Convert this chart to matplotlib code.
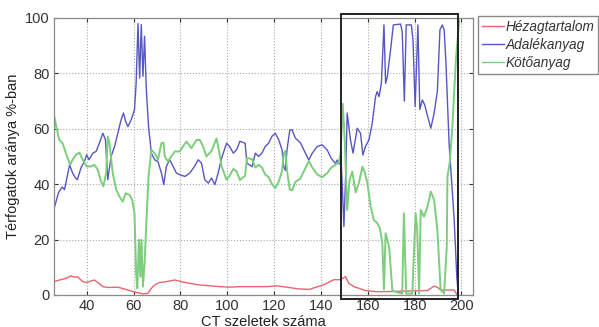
import matplotlib
matplotlib.use("Agg")
import matplotlib.pyplot as plt
from matplotlib.patches import Rectangle

plt.rcParams['font.family'] = ['Liberation Sans', 'DejaVu Sans']

# --- data ---------------------------------------------------------------
adal_x = [26, 28, 29.5, 30.5, 31.5, 32.7, 34, 35, 36, 37.6, 39, 40, 41, 42.6, 44, 45.4,
          46.9, 48, 49, 50.4, 51.9, 53.3, 54.7, 55.7, 56.6, 57.6, 59, 60.4, 61.1, 61.9,
          62.6, 63.3, 64, 64.7, 65.4, 66.4, 67.6, 69, 70.4, 71.9, 72.9, 74, 75.4, 76.9,
          78.3, 79.7, 82, 84, 86, 87.6, 89, 90.4, 91.9, 93.3, 94.7, 96.1, 97.6, 99.7, 101,
          102.6, 104, 105.4, 107.6, 108.4, 110.6, 112, 113.4, 114.8, 116.2, 117.7, 119.1,
          120.5, 122, 123.4, 124.1, 124.8, 125.5, 126.7, 127.7, 129.1, 131.2, 133.4, 134.8,
          136.3, 138.4, 140.5, 142.7, 144.4, 146.2, 147, 147.7, 148.7, 149.3, 149.8, 150.5,
          151.2, 152.6, 153.7, 155.5, 156.9, 157.9, 159, 160.5, 161.9, 163.3, 164, 164.8,
          165.8, 166.9, 167.6, 168.3, 169.7, 170.9, 174, 174.7, 175.6, 176.4, 178.6, 179.3,
          180.2, 181.4, 182.2, 183.3, 184.3, 185.5, 186.9, 188.3, 189.7, 190.8, 191.8,
          192.6, 193.3, 194.7, 196.8, 198, 198.6]
adal_y = [31, 37, 39, 38, 42, 47, 44, 42.5, 41.6, 46, 48.2, 50.6, 48.8, 51.2, 51.8, 54.8,
          58.4, 56, 41.6, 50, 53.6, 58.4, 63.3, 65.7, 62.7, 60.8, 63.3, 66.9, 76.5, 98,
          78.3, 97.6, 78.9, 93.4, 75, 60.8, 51.2, 48.8, 48.2, 44, 39.8, 46.4, 48.8, 46.4,
          44, 43.4, 42.8, 44, 46.4, 48.8, 47.6, 41.6, 40.4, 42.2, 39.8, 44, 49.4, 54.8, 53.6,
          51.2, 52.4, 55.5, 54.8, 47.6, 46.3, 51.2, 50, 51.2, 53.6, 54.8, 57.3,
          58.4, 56, 52.3, 46.3, 45, 52.3, 59.6, 59.6, 56.6, 55, 51.2, 48.7,
          51.2, 53.6, 54.2, 52.3, 49.3, 47.5, 48.7, 47.5, 47, 35.5, 24.7, 42,
          65.7, 56, 51.2, 60.2, 58.4, 50.5, 53.6, 56, 62, 71.6, 73.4, 71.6,
          76.4, 97.5, 76.4, 78.7, 88.3, 97.5, 97.8, 95, 70, 97.5, 97.5, 92,
          68, 97.5, 67, 70.4, 68.6, 64.6, 60.2, 65.6, 73.5, 95.7, 97.5,
          95.7, 85, 54.8, 28.3, 6.6, 0.6]

koto_x = [26, 27, 28.3, 29.7, 31.1, 32.9, 34, 35.4, 36.9, 38.3, 40, 41.9, 43.3, 44.7, 46.1,
          47.1, 48.3, 49, 49.7, 51.1, 52.6, 54, 55.4, 56.6, 58.3, 59.4, 60.4, 61.1, 61.6,
          62.3, 62.9, 63.4, 64, 64.7, 65.4, 66.4, 67.6, 69, 70.4, 71.9, 72.8, 73.3, 74.7,
          76.1, 77.6, 79.7, 81.1, 82.6, 84.7, 86.9, 88.3, 89.7, 91.1, 93.3, 95.4, 96.5,
          97.6, 99.7, 101, 102.6, 104, 105.4, 107.6, 108.4, 110.6, 112, 113.4, 114.8, 116.2,
          117.7, 119.1, 120.5, 122, 123.4, 124.1, 124.8, 125.5, 126.7, 127.7, 129.1, 131.2,
          133.4, 134.8, 136.3, 138.4, 140.5, 142.7, 144.4, 146.2, 147.7, 148.4, 149.3,
          150.2, 151.2, 152.2, 153.4, 154.8, 156.2, 157.7, 158.8, 159.8, 161.2, 162.6, 164,
          165.2, 166.2, 166.9, 167.6, 169.1, 170.5, 174.7, 175.4, 176.4, 179, 180.4, 181.1,
          181.9, 182.6, 184, 185.5, 186.9, 188.3, 189.7, 191.1, 192.6, 193.7, 194, 195,
          196.1, 197.6, 199]
koto_y = [65, 60.8, 56, 54.8, 51.2, 47, 48.8, 50.6, 51.4, 48.8, 46.4, 46.4, 47, 45.2, 41,
          39.2, 44, 57.2, 54.8, 44, 38, 35.5, 33.7, 36.7, 36.1, 34.3, 29.5, 7.8, 2.4,
          19.9, 6.6, 19.9, 3, 11.4, 25, 42.8, 52.4, 51.2, 48.8, 54.8, 55, 50, 48.2,
          50, 51.8, 51.8, 53.6, 55.4, 53, 56, 56, 53.6, 50, 52, 56.5, 52,
          46.4, 41.6, 43, 45.5, 44.6, 41.5, 43, 49.5, 49, 46, 47, 46, 43.5,
          42.5, 40, 38.6, 41, 44.7, 51, 52, 45, 38, 37.8, 40.8, 42,
          45.8, 48.3, 46, 43.5, 42.5, 44, 46, 47, 48, 51.2, 69,
          55, 30.7, 41.5, 44.5, 37, 40.5, 46.3, 44, 40.5, 32, 27, 26,
          24, 18.7, 2, 22.3, 17.4, 1.5, 0.5, 29.5, 0.5, 0.5, 29.5, 23.5,
          0.5, 30.7, 28.3, 31.9, 37.3, 34.3, 23.5, 1.8, 0.6, 17.4, 42.7, 48,
          60.8, 84.8, 99]

hezag_x = [26, 28.4, 31.1, 33.3, 34.7, 36.1, 38.3, 40, 41.9, 43.3, 44.7, 46.9, 49, 53.3,
           55.4, 57.6, 59.7, 61.9, 64, 66.1, 67.6, 69, 71.1, 74, 77.6, 80.4, 84, 88.3,
           92.6, 96.9, 101.1, 105.4, 111.1, 116.9, 121.1, 125.4, 130.4, 135, 141.2, 145.5,
           148.3, 150.5, 151.9, 154.1, 156.2, 159, 163.3, 167.6, 185.5, 186.9, 188.3,
           189.7, 191.1, 196.8, 198]
hezag_y = [4.8, 5.4, 6, 6.9, 6.4, 6.6, 4.8, 4.5, 5.1, 5.4, 4.5, 3, 2.7, 2.8,
           2.3, 1.8, 1.2, 0.8, 0.4, 0.6, 2.4, 3.6, 4.5, 4.8, 5.4, 4.8, 4.2, 3.6,
           3.3, 3, 2.8, 3, 3, 3, 3.3, 2.8, 2.2, 2, 3.7, 5.5,
           5.5, 6.6, 4.2, 3, 2.4, 1.6, 1.2, 1.2, 1.6, 2.4, 3.2,
           2.8, 1.8, 1.8, 0.3]

series_labels = ['Hézagtartalom', 'Adalékanyag', 'Kötőanyag']
x_ticks = [40, 60, 80, 100, 120, 140, 160, 180, 200]
y_ticks = [0, 20, 40, 60, 80, 100]
box_x = [148.5, 198.7]
box_y = [-1.3, 101.5]

# --- figure -------------------------------------------------------------
fig = plt.figure(figsize=(5.99, 3.27), dpi=100)
ax = fig.add_axes([0.090, 0.098, 0.700, 0.847])

l1, = ax.plot(hezag_x, hezag_y, color='#e8646e', lw=1.0, label=series_labels[0])
l2, = ax.plot(adal_x, adal_y, color='#5656c4', lw=1.0, label=series_labels[1])
l3, = ax.plot(koto_x, koto_y, color='#7ccd7c', lw=1.4, label=series_labels[2])

ax.set_xlim(26, 205)
ax.set_ylim(0, 100)
ax.set_xticks(x_ticks)
ax.set_yticks(y_ticks)
ax.grid(True, linestyle=':', color='#a8a8a8', lw=0.8)
ax.set_axisbelow(True)
ax.tick_params(direction='in', length=3, labelsize=10.5, colors='#333333',
               top=True, right=True, pad=3)
for s in ax.spines.values():
    s.set_color('#8a8a8a')
    s.set_linewidth(0.9)

ax.set_xlabel('CT szeletek száma', fontsize=10.5, color='#222222', labelpad=1)
ax.set_ylabel('Térfogatok aránya %-ban', fontsize=10.5, color='#222222', labelpad=4)

rect = Rectangle((box_x[0], box_y[0]), box_x[1] - box_x[0], box_y[1] - box_y[0],
                 fill=False, edgecolor='#222222', lw=1.4, clip_on=False, zorder=5)
ax.add_patch(rect)

leg = fig.legend(handles=[l1, l2, l3], loc='upper left',
                 bbox_to_anchor=(478 / 599, 1 - 16 / 327), frameon=True,
                 fancybox=False, edgecolor='#8a8a8a', framealpha=1,
                 prop={'style': 'italic', 'size': 9.8},
                 handlelength=1.6, handletextpad=0.1, borderpad=0.3,
                 labelspacing=0.3, borderaxespad=0)
for t in leg.get_texts():
    t.set_color('#333333')
for h in leg.legend_handles:
    h.set_linewidth(1.0)

fig.savefig('out.png', dpi=100)
